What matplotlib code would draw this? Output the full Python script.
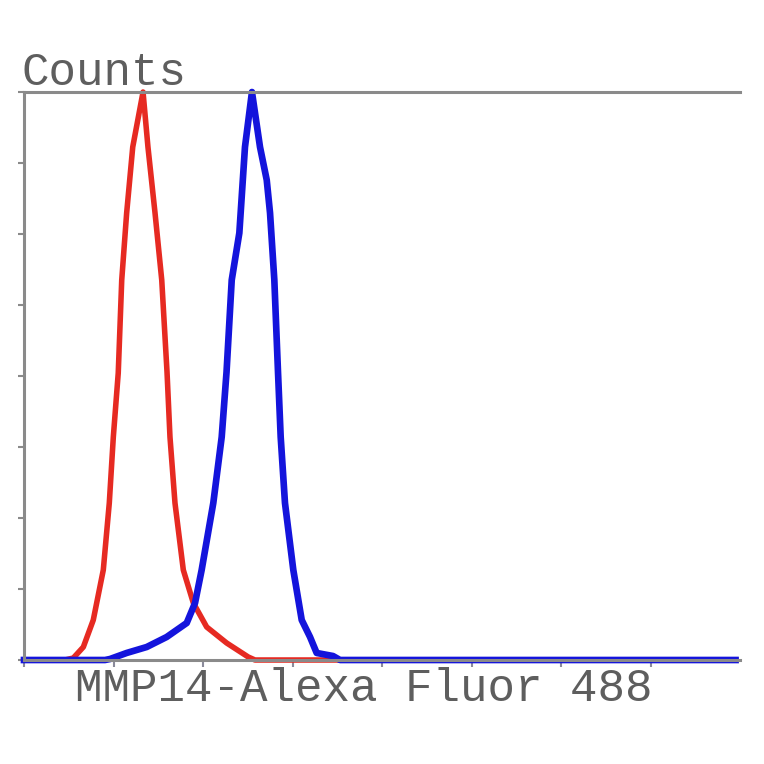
import matplotlib
matplotlib.use('Agg')
import matplotlib.pyplot as plt
import numpy as np

# red histogram (isotype control), x in tick units, y in tick units
red_x = [0.0, 0.458, 0.551, 0.663, 0.774, 0.886, 0.953, 0.998, 1.053, 1.092,
         1.147, 1.215, 1.330, 1.385, 1.464, 1.539, 1.598, 1.631, 1.687, 1.780,
         1.892, 2.041, 2.265, 2.506, 2.581, 7.95]
red_y = [0.0, 0.0, 0.028, 0.183, 0.563, 1.268, 2.211, 3.141, 4.042, 5.352,
         6.296, 7.225, 8.0, 7.225, 6.296, 5.352, 4.056, 3.141, 2.211, 1.268,
         0.803, 0.465, 0.239, 0.042, 0.0, 0.0]

# blue histogram (MMP14 stained)
blue_x = [0.0, 0.905, 0.961, 1.147, 1.371, 1.594, 1.818, 1.911, 1.985, 2.115,
          2.209, 2.263, 2.321, 2.406, 2.469, 2.547, 2.637, 2.712, 2.749, 2.797,
          2.838, 2.868, 2.916, 3.009, 3.103, 3.196, 3.270, 3.453, 3.531, 7.95]
blue_y = [0.0, 0.0, 0.014, 0.099, 0.183, 0.324, 0.521, 0.803, 1.268, 2.211,
          3.141, 4.056, 5.352, 6.014, 7.225, 8.0, 7.225, 6.761, 6.296, 5.352,
          4.056, 3.141, 2.211, 1.268, 0.563, 0.324, 0.099, 0.056, 0.0, 0.0]

x_ticks = [0, 1, 2, 3, 4, 5, 6, 7]
y_ticks = [0, 1, 2, 3, 4, 5, 6, 7, 8]

fig = plt.figure(figsize=(7.64, 7.64), dpi=100)
ax = fig.add_axes([24/764, 104/764, 716/764, 568/764])

ax.plot(red_x, red_y, color='#e62a22', lw=4.0, solid_joinstyle='round', clip_on=False)
ax.plot(blue_x, blue_y, color='#1414dc', lw=4.8, solid_joinstyle='round', clip_on=False)

ax.set_xlim(0, 8)
ax.set_ylim(0, 8)
ax.set_xticks(x_ticks)
ax.set_yticks(y_ticks)
ax.set_xticklabels([])
ax.set_yticklabels([])
ax.tick_params(axis='x', direction='out', length=5, width=1.5, color='#8a8a9a')
ax.tick_params(axis='y', direction='out', length=4, width=1.5, color='#8a8a8a')

ax.spines['right'].set_visible(False)
for s in ['left', 'top', 'bottom']:
    ax.spines[s].set_color('#8a8a8a')
    ax.spines[s].set_linewidth(2.2)

fig.text(21/764, 1 - 85/764, 'Counts', fontsize=33, family='Liberation Mono',
         color='#5e5e5e', ha='left', va='baseline')
fig.text(364/764, 1 - 701/764, 'MMP14-Alexa Fluor 488', fontsize=33,
         family='Liberation Mono', color='#5e5e5e', ha='center', va='baseline')

fig.savefig('out.png', dpi=100)
